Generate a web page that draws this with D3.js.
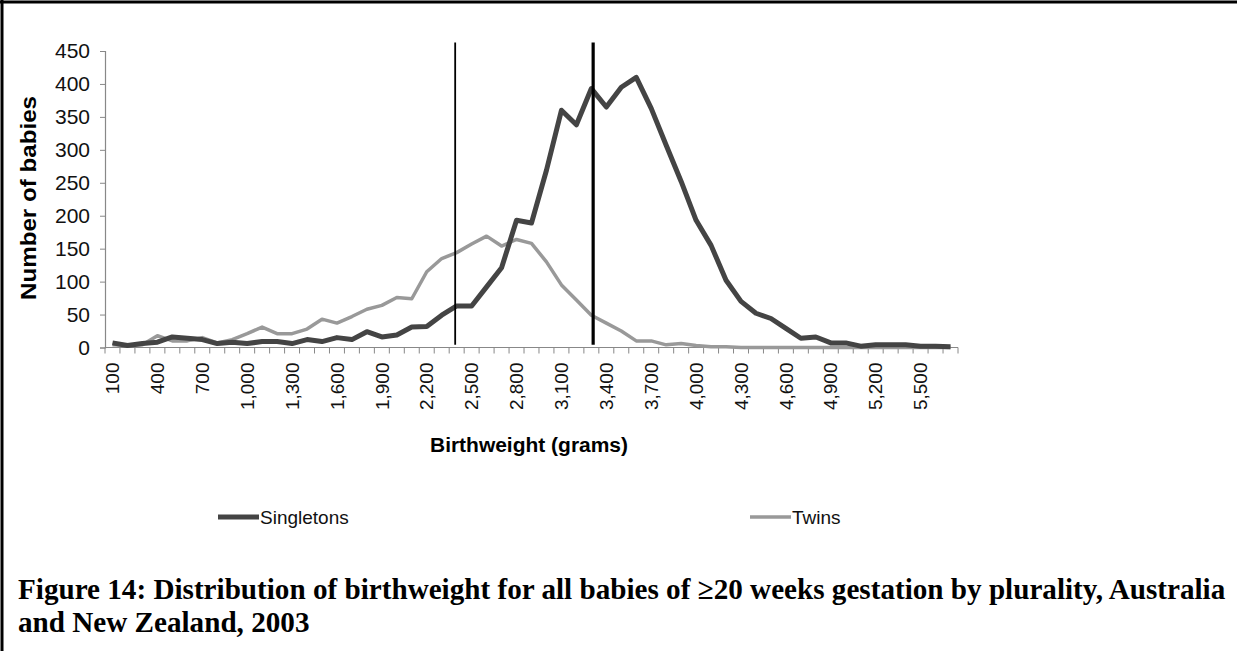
<!DOCTYPE html>
<html>
<head>
<meta charset="utf-8">
<script src="https://cdn.jsdelivr.net/npm/d3@7"></script>
<style>
body { margin: 0; background: #ffffff; }
</style>
</head>
<body>
<script>
var width = 1237;
var height = 651;

// birthweight categories (grams), one every 100g
var weights = [100, 200, 300, 400, 500, 600, 700, 800, 900, 1000,
    1100, 1200, 1300, 1400, 1500, 1600, 1700, 1800, 1900, 2000,
    2100, 2200, 2300, 2400, 2500, 2600, 2700, 2800, 2900, 3000,
    3100, 3200, 3300, 3400, 3500, 3600, 3700, 3800, 3900, 4000,
    4100, 4200, 4300, 4400, 4500, 4600, 4700, 4800, 4900, 5000,
    5100, 5200, 5300, 5400, 5500, 5600, 5700];

var singletons = [7, 3, 6, 8, 16, 14, 12, 6, 8, 6,
    9, 9, 6, 12, 9, 15, 12, 24, 16, 19,
    31, 32, 49, 63, 63, 92, 121, 193, 189, 269,
    360, 338, 393, 365, 395, 410, 363, 307, 252, 193,
    155, 102, 70, 52, 44, 29, 14, 16, 7, 7,
    2, 4, 4, 4, 2, 2, 1];

var twins = [4, 3, 4, 18, 10, 10, 15, 7, 12, 21,
    31, 21, 21, 28, 43, 37, 47, 58, 64, 76,
    74, 115, 135, 144, 157, 169, 154, 164, 158, 130,
    95, 72, 49, 37, 25, 10, 10, 4, 6, 3,
    1, 1, 0, 0, 0, 0, 0, 0, 0, 0,
    0, 0, 0, 0, 0, 0, 0];

// tick labels shown on the x axis (every third category)
var xTickLabels = [100, 400, 700, 1000, 1300, 1600, 1900, 2200, 2500, 2800,
    3100, 3400, 3700, 4000, 4300, 4600, 4900, 5200, 5500];
var yTicks = [0, 50, 100, 150, 200, 250, 300, 350, 400, 450];

// the two vertical marker lines (grams)
var markerGrams = [2390, 3312];
var markerWidths = [1.8, 3.2];

var seriesNames = ["Singletons", "Twins"];
var seriesColors = ["#444444", "#999999"];
var seriesWidths = [5, 3.5];

var fontSans = "Arial, 'Liberation Sans', Helvetica, sans-serif";

var svg = d3.select("body").append("svg")
    .attr("width", width)
    .attr("height", height);

svg.append("rect")
    .attr("width", width)
    .attr("height", height)
    .attr("fill", "#ffffff");

// page frame, only top and left edges visible
svg.append("line")
    .attr("x1", 0).attr("x2", width)
    .attr("y1", 2).attr("y2", 2)
    .style("stroke", "#000").style("stroke-width", 3);
svg.append("line")
    .attr("x1", 2).attr("x2", 2)
    .attr("y1", 0).attr("y2", height)
    .style("stroke", "#000").style("stroke-width", 3);

var plotLeft = 105;
var plotRight = 958;
var plotTop = 51;
var plotBottom = 347.5;

var x = d3.scaleBand()
    .domain(weights)
    .range([plotLeft, plotRight])
    .padding(0);

var y = d3.scaleLinear()
    .domain([0, 450])
    .range([plotBottom, plotTop]);

var bw = x.bandwidth();
var xg = d3.scaleLinear()
    .domain([weights[0], weights[weights.length - 1]])
    .range([x(weights[0]) + bw / 2, x(weights[weights.length - 1]) + bw / 2]);

// y axis
var yAxis = svg.append("g")
    .attr("transform", "translate(" + plotLeft + ",0)")
    .call(d3.axisLeft(y).tickValues(yTicks).tickSize(5).tickPadding(10).tickFormat(d3.format("d")));

yAxis.select(".domain").style("stroke", "#888").style("stroke-width", 1.2);
yAxis.selectAll(".tick line").style("stroke", "#888");
yAxis.selectAll("text")
    .style("font-family", fontSans)
    .style("font-size", "21px")
    .style("fill", "#111");

// x axis: ticks between categories
var xAxisG = svg.append("g")
    .attr("transform", "translate(0," + plotBottom + ")");

xAxisG.append("line")
    .attr("x1", plotLeft).attr("x2", plotRight)
    .attr("y1", 0).attr("y2", 0)
    .style("stroke", "#888").style("stroke-width", 1.2);

var boundaries = weights.map(function (w) { return x(w); }).concat([plotRight]);
xAxisG.selectAll(".xtick").data(boundaries)
    .enter().append("line").classed("xtick", true)
    .attr("x1", function (d) { return d; })
    .attr("x2", function (d) { return d; })
    .attr("y1", 0)
    .attr("y2", 6)
    .style("stroke", "#888").style("stroke-width", 1);

var commaFmt = d3.format(",");
xAxisG.selectAll(".xlabel").data(xTickLabels)
    .enter().append("text").classed("xlabel", true)
    .attr("transform", function (d) {
        return "translate(" + (x(d) + bw / 2) + ",15) rotate(-90)";
    })
    .attr("dy", "0.35em")
    .attr("text-anchor", "end")
    .style("font-family", fontSans)
    .style("font-size", "19px")
    .style("fill", "#111")
    .text(function (d) { return commaFmt(d); });

// axis titles
svg.append("text")
    .attr("x", 529)
    .attr("y", 452)
    .attr("text-anchor", "middle")
    .style("font-family", fontSans)
    .style("font-size", "20px")
    .style("font-weight", "bold")
    .attr("textLength", 198)
    .attr("lengthAdjust", "spacingAndGlyphs")
    .text("Birthweight (grams)");

svg.append("text")
    .attr("transform", "translate(36,198) rotate(-90)")
    .attr("text-anchor", "middle")
    .style("font-family", fontSans)
    .style("font-size", "22px")
    .style("font-weight", "bold")
    .attr("textLength", 204)
    .attr("lengthAdjust", "spacingAndGlyphs")
    .text("Number of babies");

// series lines
var line = d3.line()
    .x(function (d, i) { return x(weights[i]) + bw / 2; })
    .y(function (d) { return y(d); });

var seriesData = [singletons, twins];

// draw twins below singletons
[1, 0].forEach(function (k) {
    svg.append("path")
        .datum(seriesData[k])
        .attr("d", line)
        .attr("fill", "none")
        .style("stroke", seriesColors[k])
        .style("stroke-width", seriesWidths[k])
        .style("stroke-linejoin", "round");
});

// vertical marker lines
svg.selectAll(".marker").data(markerGrams)
    .enter().append("line").classed("marker", true)
    .attr("x1", function (d) { return xg(d); })
    .attr("x2", function (d) { return xg(d); })
    .attr("y1", y(463))
    .attr("y2", y(4))
    .style("stroke", "#000")
    .style("stroke-width", function (d, i) { return markerWidths[i]; });

// legend
var legendX = [218, 750];
var legend = svg.selectAll(".legend").data(seriesNames)
    .enter().append("g").classed("legend", true)
    .attr("transform", function (d, i) { return "translate(" + legendX[i] + ",517)"; });

legend.append("line")
    .attr("x1", 0).attr("x2", 41)
    .attr("y1", 0).attr("y2", 0)
    .style("stroke", function (d, i) { return seriesColors[i]; })
    .style("stroke-width", function (d, i) { return seriesWidths[i]; });

legend.append("text")
    .attr("x", 42)
    .attr("dy", "0.35em")
    .style("font-family", fontSans)
    .style("font-size", "19px")
    .style("fill", "#111")
    .text(function (d) { return d; });

// caption
var captionLines = [
    "Figure 14: Distribution of birthweight for all babies of \u226520 weeks gestation by plurality, Australia",
    "and New Zealand, 2003"
];

var caption = svg.selectAll(".caption").data(captionLines)
    .enter().append("text").classed("caption", true)
    .attr("x", 18)
    .attr("y", function (d, i) { return 599 + i * 33; })
    .style("font-family", "'Liberation Serif', 'DejaVu Serif', serif")
    .style("font-weight", "bold")
    .style("font-size", "21px")
    .style("fill", "#000")
    .text(function (d) { return d; });

// fit first line to the reference width
var firstLen = caption.node().getComputedTextLength();
var fs = 21 * 1208 / firstLen;
caption.style("font-size", fs + "px");
</script>
</body>
</html>
